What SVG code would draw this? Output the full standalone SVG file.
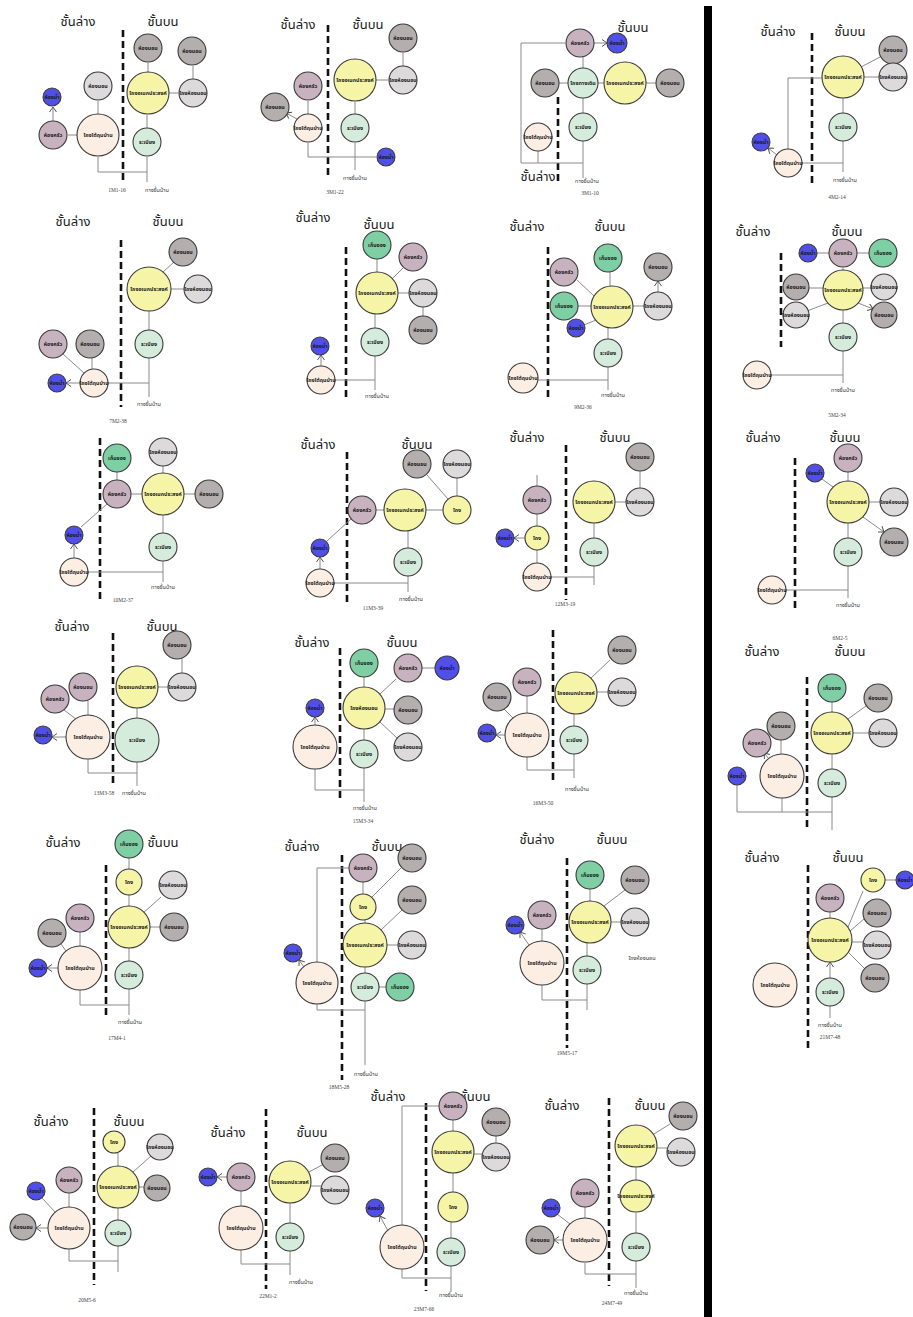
<svg xmlns="http://www.w3.org/2000/svg" width="913" height="1317" viewBox="0 0 913 1317">
<style>
.n circle{stroke:#3a3a3a;stroke-width:1.1}
.n text{font-family:"Noto Sans Thai","Noto Sans","DejaVu Sans",sans-serif;font-size:5.3px;font-weight:bold;text-anchor:middle;fill:#1a1a1a}
.Y{fill:#f6f4a6}.L{fill:#dcdada}.D{fill:#b4aeae}.M{fill:#c8b2c0}.B{fill:#5050e8}.G{fill:#7fcfa5}.R{fill:#d5ecdc}.P{fill:#fdeee4}
.h{font-family:"Noto Sans Thai","Noto Sans","DejaVu Sans",sans-serif;font-size:13px;text-anchor:middle;fill:#1a1a1a}
.c{font-family:"Liberation Serif",serif;font-size:5.5px;text-anchor:middle;fill:#444}
.e{font-family:"Noto Sans Thai","Noto Sans","DejaVu Sans",sans-serif;font-size:5.5px;text-anchor:middle;fill:#333}
.s line{stroke:#111;stroke-width:2.6;stroke-dasharray:7 4}
</style>
<defs>
<marker id="a" markerWidth="8" markerHeight="8" refX="5.5" refY="4" orient="auto" markerUnits="userSpaceOnUse"><path d="M0.5,0.5 L5.5,4 L0.5,7.5" fill="none" stroke="#555" stroke-width="1"/></marker>
</defs>
<rect width="913" height="1317" fill="#fff"/>
<rect x="704" y="6" width="8" height="1311" fill="#000"/>

<g id="separators" class="s">
<line x1="123" y1="30" x2="123" y2="183"/>
<line x1="328" y1="25" x2="328" y2="178"/>
<line x1="558" y1="97" x2="558" y2="183"/>
<line x1="812" y1="33" x2="812" y2="185"/>
<line x1="781" y1="253" x2="781" y2="347"/>
<line x1="795" y1="458" x2="795" y2="610"/>
<line x1="121" y1="240" x2="121" y2="407"/>
<line x1="346" y1="247" x2="346" y2="400"/>
<line x1="548" y1="247" x2="548" y2="400"/>
<line x1="100" y1="438" x2="100" y2="602"/>
<line x1="347" y1="452" x2="347" y2="605"/>
<line x1="566" y1="445" x2="566" y2="600"/>
<line x1="113" y1="633" x2="113" y2="785"/>
<line x1="807" y1="677" x2="807" y2="830"/>
<line x1="340" y1="648" x2="340" y2="802"/>
<line x1="553" y1="630" x2="553" y2="783"/>
<line x1="106" y1="865" x2="106" y2="1017"/>
<line x1="342" y1="855" x2="342" y2="1080"/>
<line x1="567" y1="858" x2="567" y2="1048"/>
<line x1="808" y1="865" x2="808" y2="1048"/>
<line x1="94" y1="1108" x2="94" y2="1285"/>
<line x1="266" y1="1109" x2="266" y2="1289"/>
<line x1="426" y1="1103" x2="426" y2="1291"/>
<line x1="609" y1="1098" x2="609" y2="1286"/>
</g>

<g id="titles">
<text class="h" x="78" y="26">ชั้นล่าง</text><text class="h" x="163" y="26">ชั้นบน</text>
<text class="h" x="298" y="29">ชั้นล่าง</text><text class="h" x="368" y="29">ชั้นบน</text>
<text class="h" x="633" y="32">ชั้นบน</text><text class="h" x="538" y="181">ชั้นล่าง</text>
<text class="h" x="778" y="36">ชั้นล่าง</text><text class="h" x="850" y="36">ชั้นบน</text>
<text class="h" x="753" y="236">ชั้นล่าง</text><text class="h" x="847" y="236">ชั้นบน</text>
<text class="h" x="763" y="442">ชั้นล่าง</text><text class="h" x="845" y="442">ชั้นบน</text>
<text class="h" x="73" y="226">ชั้นล่าง</text><text class="h" x="168" y="226">ชั้นบน</text>
<text class="h" x="313" y="222">ชั้นล่าง</text><text class="h" x="379" y="229">ชั้นบน</text>
<text class="h" x="527" y="231">ชั้นล่าง</text><text class="h" x="610" y="231">ชั้นบน</text>
<text class="h" x="318" y="449">ชั้นล่าง</text><text class="h" x="417" y="449">ชั้นบน</text>
<text class="h" x="527" y="442">ชั้นล่าง</text><text class="h" x="615" y="442">ชั้นบน</text>
<text class="h" x="72" y="631">ชั้นล่าง</text><text class="h" x="162" y="631">ชั้นบน</text>
<text class="h" x="762" y="656">ชั้นล่าง</text><text class="h" x="850" y="656">ชั้นบน</text>
<text class="h" x="312" y="647">ชั้นล่าง</text><text class="h" x="402" y="647">ชั้นบน</text>
<text class="h" x="63" y="847">ชั้นล่าง</text><text class="h" x="163" y="847">ชั้นบน</text>
<text class="h" x="302" y="851">ชั้นล่าง</text><text class="h" x="387" y="851">ชั้นบน</text>
<text class="h" x="537" y="844">ชั้นล่าง</text><text class="h" x="612" y="844">ชั้นบน</text>
<text class="h" x="762" y="862">ชั้นล่าง</text><text class="h" x="848" y="862">ชั้นบน</text>
<text class="h" x="51" y="1126">ชั้นล่าง</text><text class="h" x="129" y="1126">ชั้นบน</text>
<text class="h" x="228" y="1137">ชั้นล่าง</text><text class="h" x="312" y="1137">ชั้นบน</text>
<text class="h" x="388" y="1101">ชั้นล่าง</text><text class="h" x="475" y="1101">ชั้นบน</text>
<text class="h" x="562" y="1110">ชั้นล่าง</text><text class="h" x="650" y="1110">ชั้นบน</text>
</g>

<g id="labels">
<text class="c" x="117" y="192">1M1-16</text><text class="e" x="157" y="192">ทางขึ้นบ้าน</text>
<text class="e" x="355" y="180">ทางขึ้นบ้าน</text><text class="c" x="335" y="194">3M1-22</text>
<text class="e" x="587" y="183">ทางขึ้นบ้าน</text><text class="c" x="590" y="195">3M1-10</text>
<text class="e" x="845" y="182">ทางขึ้นบ้าน</text><text class="c" x="837" y="199">4M2-14</text>
<text class="e" x="843" y="392">ทางขึ้นบ้าน</text><text class="c" x="837" y="417">5M2-34</text>
<text class="e" x="848" y="607">ทางขึ้นบ้าน</text><text class="c" x="840" y="640">6M2-5</text>
<text class="e" x="149" y="406">ทางขึ้นบ้าน</text><text class="c" x="118" y="423">7M2-38</text>
<text class="e" x="377" y="398">ทางขึ้นบ้าน</text>
<text class="e" x="613" y="397">ทางขึ้นบ้าน</text><text class="c" x="583" y="409">9M2-36</text>
<text class="e" x="163" y="589">ทางขึ้นบ้าน</text><text class="c" x="123" y="602">10M2-37</text>
<text class="e" x="411" y="601">ทางขึ้นบ้าน</text><text class="c" x="373" y="610">11M3-39</text>
<text class="c" x="565" y="606">12M3-19</text>
<text class="c" x="104" y="795">13M3-58</text><text class="e" x="134" y="795">ทางขึ้นบ้าน</text>
<text class="e" x="365" y="810">ทางขึ้นบ้าน</text><text class="c" x="363" y="823">15M3-34</text>
<text class="e" x="577" y="791">ทางขึ้นบ้าน</text><text class="c" x="543" y="805">16M3-50</text>
<text class="e" x="130" y="1024">ทางขึ้นบ้าน</text><text class="c" x="117" y="1040">17M4-1</text>
<text class="e" x="366" y="1076">ทางขึ้นบ้าน</text><text class="c" x="339" y="1089">18M5-28</text>
<text class="e" x="642" y="960">โถงห้องนอน</text><text class="c" x="567" y="1055">19M5-17</text>
<text class="e" x="830" y="1027">ทางขึ้นบ้าน</text><text class="c" x="830" y="1039">21M7-48</text>
<text class="c" x="87" y="1302">20M5-6</text>
<text class="e" x="301" y="1284">ทางขึ้นบ้าน</text><text class="c" x="268" y="1298">22M1-2</text>
<text class="e" x="451" y="1297">ทางขึ้นบ้าน</text><text class="c" x="424" y="1311">23M7-66</text>
<text class="e" x="636" y="1295">ทางขึ้นบ้าน</text><text class="c" x="612" y="1305">24M7-49</text>
</g>

<g id="connectors" fill="none" stroke="#8a8a8a" stroke-width="1" marker-end="url(#a)">
<path d="M147,182V157M147,172H98V157M147,128V115M148,72V63M169,93H178M193,79V66M98,114V101M77,135H68M53,121V107"/>
<path d="M355,170V143M355,157H308V143M355,157H376M355,114V102M376,80H388M403,66V53M308,114V101M297,119L286,113"/>
<path d="M583,178V141M583,163H521V43H565M538,163V151M583,113V98M583,68V57M568,83H559M598,83H604M646,83H656M594,43H607"/>
<path d="M843,172V141M843,163H802M788,149V78H822M843,113V98M861,67L880,57M864,77H879M777,155L768,148"/>
<path d="M843,383V351M843,375H771M843,323V310M843,272V268M829,253H817M857,253H869M823,288H809M863,288H871M828,303L807,311M858,303L873,309"/>
<path d="M848,598V566M848,590H786M848,538V523M848,481V472M833,487L822,479M869,502H880M863,517L884,532"/>
<path d="M149,397V358M149,383H108M149,330V311M163,272L174,262M171,289H184M92,369V358M84,373L63,354M80,383H66"/>
<path d="M375,390V356M375,380H335M375,328V314M377,272V259M392,279L403,268M398,293H409M423,307V316M321,366V355"/>
<path d="M608,390V367M608,380H538M608,339V328M610,286V272M594,296L577,280M591,306H578M596,320L584,325M633,306H644M658,292V281"/>
<path d="M163,582V561M163,572H88M163,533V515M163,473V466M142,494H131M184,494H195M117,480V472M107,504L81,527M74,558V544"/>
<path d="M408,592V576M408,583H334M408,548V531M384,510H376M426,510H443M448,499L427,475M457,496V478M351,519L327,541M320,569V557"/>
<path d="M594,585V566M594,577H551M594,538V523M615,502H626M640,488V471M537,563V550M537,526V514M537,486V475M525,538H514"/>
<path d="M137,786V762M137,773H88V759M137,718V708M158,687H168M182,673V659M88,715V701M76,719L64,710M66,737H52"/>
<path d="M832,830V797M832,812H737V785M782,812V798M832,769V754M832,712V702M848,719L866,706M853,733H869M781,754V740M769,759L764,753"/>
<path d="M364,802V768M364,790H315V769M364,740V729M364,687V677M380,694L396,679M422,668H435M385,709H394M380,722L397,738M315,725V717"/>
<path d="M574,778V754M574,770H527V757M574,726V714M591,678L610,660M597,692H608M527,713V696M513,718L504,709M505,735H496"/>
<path d="M129,1015V989M129,1005H80V990M129,961V948M129,906V895M129,869V858M142,914L161,897M150,927H160M80,946V932M66,951L61,944M58,968H47"/>
<path d="M365,1065V1001M365,1010H317V1004M317,962V868H349M365,973V967M365,923V920M363,894V882M372,897L401,868M381,930L402,910M387,945H398M379,987H386M304,967L299,960"/>
<path d="M587,1010V984M587,1000H542V985M587,956V943M590,901V889M604,906L625,890M611,922H621M542,941V929M529,945L520,932"/>
<path d="M830,1018V1006M830,918V912M848,927L863,891M885,880H896M850,931L864,919M852,942H863M848,952L864,968M830,978V962"/>
<path d="M118,1272V1246M118,1261H69V1249M118,1220V1208M118,1166V1153M133,1172L151,1156M139,1187H144M69,1207V1193M55,1212L42,1198M48,1228H36"/>
<path d="M290,1275V1251M290,1264H241V1250M290,1223V1203M309,1172L322,1165M311,1186H321M241,1206V1191M227,1177H217"/>
<path d="M451,1292V1266M451,1278H402V1269M402,1225V1106H439M451,1238V1222M453,1192V1173M453,1131V1120M474,1154H482M496,1143V1136M388,1231L380,1216"/>
<path d="M636,1288V1261M636,1274H585V1263M636,1233V1213M636,1180V1167M654,1134L670,1124M657,1148H667M585,1218V1207M570,1224L557,1214M563,1240H554"/>
</g>

<g class="n">
<g id="d1a" transform="translate(148 48)"><circle r="14" class="D"/><text y="2">ห้องนอน</text></g>
<g id="d1b" transform="translate(192 51)"><circle r="14" class="D"/><text y="2">ห้องนอน</text></g>
<g id="d1c" transform="translate(98 86)"><circle r="14" class="L"/><text y="2">ห้องนอน</text></g>
<g id="d1d" transform="translate(148 93)"><circle r="21" class="Y"/><text y="2">โถงอเนกประสงค์</text></g>
<g id="d1e" transform="translate(193 93)"><circle r="14" class="L"/><text y="2">โถงห้องนอน</text></g>
<g id="d1f" transform="translate(52 97)"><circle r="9" class="B"/><text y="2">ห้องน้ำ</text></g>
<g id="d1g" transform="translate(53 135)"><circle r="14" class="M"/><text y="2">ห้องครัว</text></g>
<g id="d1h" transform="translate(98 135)"><circle r="21" class="P"/><text y="2">โถงใต้ถุนบ้าน</text></g>
<g id="d1i" transform="translate(147 142)"><circle r="14" class="R"/><text y="2">ระเบียง</text></g>

<g id="d2a" transform="translate(403 38)"><circle r="14" class="D"/><text y="2">ห้องนอน</text></g>
<g id="d2b" transform="translate(355 80)"><circle r="21" class="Y"/><text y="2">โถงอเนกประสงค์</text></g>
<g id="d2c" transform="translate(403 80)"><circle r="14" class="L"/><text y="2">โถงห้องนอน</text></g>
<g id="d2d" transform="translate(308 86)"><circle r="14" class="M"/><text y="2">ห้องครัว</text></g>
<g id="d2e" transform="translate(275 107)"><circle r="14" class="D"/><text y="2">ห้องนอน</text></g>
<g id="d2f" transform="translate(308 128)"><circle r="14" class="P"/><text y="2">โถงใต้ถุนบ้าน</text></g>
<g id="d2g" transform="translate(355 128)"><circle r="14" class="R"/><text y="2">ระเบียง</text></g>
<g id="d2h" transform="translate(386 157)"><circle r="9" class="B"/><text y="2">ห้องน้ำ</text></g>

<g id="d3a" transform="translate(580 43)"><circle r="14" class="M"/><text y="2">ห้องครัว</text></g>
<g id="d3b" transform="translate(617 43)"><circle r="10" class="B"/><text y="2">ห้องน้ำ</text></g>
<g id="d3c" transform="translate(545 83)"><circle r="14" class="D"/><text y="2">ห้องนอน</text></g>
<g id="d3d" transform="translate(583 83)"><circle r="15" class="R"/><text y="2">โถงทางเดิน</text></g>
<g id="d3e" transform="translate(625 83)"><circle r="21" class="Y"/><text y="2">โถงอเนกประสงค์</text></g>
<g id="d3f" transform="translate(670 83)"><circle r="14" class="D"/><text y="2">ห้องนอน</text></g>
<g id="d3g" transform="translate(538 137)"><circle r="14" class="P"/><text y="2">โถงใต้ถุนบ้าน</text></g>
<g id="d3h" transform="translate(583 127)"><circle r="14" class="R"/><text y="2">ระเบียง</text></g>

<g id="d4a" transform="translate(893 50)"><circle r="14" class="D"/><text y="2">ห้องนอน</text></g>
<g id="d4b" transform="translate(843 77)"><circle r="21" class="Y"/><text y="2">โถงอเนกประสงค์</text></g>
<g id="d4c" transform="translate(893 77)"><circle r="14" class="L"/><text y="2">โถงห้องนอน</text></g>
<g id="d4d" transform="translate(843 127)"><circle r="14" class="R"/><text y="2">ระเบียง</text></g>
<g id="d4e" transform="translate(761 142)"><circle r="9" class="B"/><text y="2">ห้องน้ำ</text></g>
<g id="d4f" transform="translate(788 163)"><circle r="14" class="P"/><text y="2">โถงใต้ถุนบ้าน</text></g>

<g id="d5a" transform="translate(808 253)"><circle r="9" class="B"/><text y="2">ห้องน้ำ</text></g>
<g id="d5b" transform="translate(843 253)"><circle r="14" class="M"/><text y="2">ห้องครัว</text></g>
<g id="d5c" transform="translate(883 253)"><circle r="14" class="G"/><text y="2">เก็บของ</text></g>
<g id="d5d" transform="translate(796 287)"><circle r="13" class="D"/><text y="2">ห้องนอน</text></g>
<g id="d5e" transform="translate(843 290)"><circle r="20" class="Y"/><text y="2">โถงอเนกประสงค์</text></g>
<g id="d5f" transform="translate(884 287)"><circle r="13" class="L"/><text y="2">โถงห้องนอน</text></g>
<g id="d5g" transform="translate(796 315)"><circle r="13" class="L"/><text y="2">โถงห้องนอน</text></g>
<g id="d5h" transform="translate(884 315)"><circle r="13" class="D"/><text y="2">ห้องนอน</text></g>
<g id="d5i" transform="translate(843 337)"><circle r="14" class="R"/><text y="2">ระเบียง</text></g>
<g id="d5j" transform="translate(757 375)"><circle r="14" class="P"/><text y="2">โถงใต้ถุนบ้าน</text></g>

<g id="d6a" transform="translate(848 458)"><circle r="14" class="M"/><text y="2">ห้องครัว</text></g>
<g id="d6b" transform="translate(815 473)"><circle r="9" class="B"/><text y="2">ห้องน้ำ</text></g>
<g id="d6c" transform="translate(848 502)"><circle r="21" class="Y"/><text y="2">โถงอเนกประสงค์</text></g>
<g id="d6d" transform="translate(894 502)"><circle r="14" class="L"/><text y="2">โถงห้องนอน</text></g>
<g id="d6e" transform="translate(894 542)"><circle r="14" class="D"/><text y="2">ห้องนอน</text></g>
<g id="d6f" transform="translate(848 552)"><circle r="14" class="R"/><text y="2">ระเบียง</text></g>
<g id="d6g" transform="translate(772 590)"><circle r="14" class="P"/><text y="2">โถงใต้ถุนบ้าน</text></g>

<g id="d7a" transform="translate(183 252)"><circle r="14" class="D"/><text y="2">ห้องนอน</text></g>
<g id="d7b" transform="translate(149 289)"><circle r="22" class="Y"/><text y="2">โถงอเนกประสงค์</text></g>
<g id="d7c" transform="translate(198 289)"><circle r="14" class="L"/><text y="2">โถงห้องนอน</text></g>
<g id="d7d" transform="translate(53 344)"><circle r="14" class="M"/><text y="2">ห้องครัว</text></g>
<g id="d7e" transform="translate(90 344)"><circle r="14" class="D"/><text y="2">ห้องนอน</text></g>
<g id="d7f" transform="translate(149 344)"><circle r="14" class="R"/><text y="2">ระเบียง</text></g>
<g id="d7g" transform="translate(57 383)"><circle r="9" class="B"/><text y="2">ห้องน้ำ</text></g>
<g id="d7h" transform="translate(94 383)"><circle r="14" class="P"/><text y="2">โถงใต้ถุนบ้าน</text></g>

<g id="d8a" transform="translate(377 245)"><circle r="14" class="G"/><text y="2">เก็บของ</text></g>
<g id="d8b" transform="translate(413 257)"><circle r="14" class="M"/><text y="2">ห้องครัว</text></g>
<g id="d8c" transform="translate(377 293)"><circle r="21" class="Y"/><text y="2">โถงอเนกประสงค์</text></g>
<g id="d8d" transform="translate(423 293)"><circle r="14" class="L"/><text y="2">โถงห้องนอน</text></g>
<g id="d8e" transform="translate(423 330)"><circle r="14" class="D"/><text y="2">ห้องนอน</text></g>
<g id="d8f" transform="translate(375 342)"><circle r="14" class="R"/><text y="2">ระเบียง</text></g>
<g id="d8g" transform="translate(320 346)"><circle r="9" class="B"/><text y="2">ห้องน้ำ</text></g>
<g id="d8h" transform="translate(321 380)"><circle r="14" class="P"/><text y="2">โถงใต้ถุนบ้าน</text></g>

<g id="d9a" transform="translate(608 258)"><circle r="14" class="G"/><text y="2">เก็บของ</text></g>
<g id="d9b" transform="translate(658 267)"><circle r="14" class="D"/><text y="2">ห้องนอน</text></g>
<g id="d9c" transform="translate(564 272)"><circle r="14" class="M"/><text y="2">ห้องครัว</text></g>
<g id="d9d" transform="translate(564 306)"><circle r="14" class="G"/><text y="2">เก็บของ</text></g>
<g id="d9e" transform="translate(612 307)"><circle r="21" class="Y"/><text y="2">โถงอเนกประสงค์</text></g>
<g id="d9f" transform="translate(658 306)"><circle r="14" class="L"/><text y="2">โถงห้องนอน</text></g>
<g id="d9g" transform="translate(576 328)"><circle r="9" class="B"/><text y="2">ห้องน้ำ</text></g>
<g id="d9h" transform="translate(608 353)"><circle r="14" class="R"/><text y="2">ระเบียง</text></g>
<g id="d9i" transform="translate(523 378)"><circle r="15" class="P"/><text y="2">โถงใต้ถุนบ้าน</text></g>

<g id="d10a" transform="translate(117 458)"><circle r="14" class="G"/><text y="2">เก็บของ</text></g>
<g id="d10b" transform="translate(163 452)"><circle r="14" class="L"/><text y="2">โถงห้องนอน</text></g>
<g id="d10c" transform="translate(117 494)"><circle r="14" class="M"/><text y="2">ห้องครัว</text></g>
<g id="d10d" transform="translate(163 494)"><circle r="21" class="Y"/><text y="2">โถงอเนกประสงค์</text></g>
<g id="d10e" transform="translate(209 494)"><circle r="14" class="D"/><text y="2">ห้องนอน</text></g>
<g id="d10f" transform="translate(74 535)"><circle r="9" class="B"/><text y="2">ห้องน้ำ</text></g>
<g id="d10g" transform="translate(163 547)"><circle r="14" class="R"/><text y="2">ระเบียง</text></g>
<g id="d10h" transform="translate(74 572)"><circle r="14" class="P"/><text y="2">โถงใต้ถุนบ้าน</text></g>

<g id="d11a" transform="translate(417 464)"><circle r="14" class="D"/><text y="2">ห้องนอน</text></g>
<g id="d11b" transform="translate(457 464)"><circle r="14" class="L"/><text y="2">โถงห้องนอน</text></g>
<g id="d11c" transform="translate(362 510)"><circle r="14" class="M"/><text y="2">ห้องครัว</text></g>
<g id="d11d" transform="translate(405 510)"><circle r="21" class="Y"/><text y="2">โถงอเนกประสงค์</text></g>
<g id="d11e" transform="translate(457 510)"><circle r="14" class="Y"/><text y="2">โถง</text></g>
<g id="d11f" transform="translate(320 548)"><circle r="9" class="B"/><text y="2">ห้องน้ำ</text></g>
<g id="d11g" transform="translate(408 562)"><circle r="14" class="R"/><text y="2">ระเบียง</text></g>
<g id="d11h" transform="translate(320 583)"><circle r="14" class="P"/><text y="2">โถงใต้ถุนบ้าน</text></g>

<g id="d12a" transform="translate(640 457)"><circle r="14" class="D"/><text y="2">ห้องนอน</text></g>
<g id="d12b" transform="translate(594 502)"><circle r="21" class="Y"/><text y="2">โถงอเนกประสงค์</text></g>
<g id="d12c" transform="translate(640 502)"><circle r="14" class="L"/><text y="2">โถงห้องนอน</text></g>
<g id="d12d" transform="translate(537 500)"><circle r="14" class="M"/><text y="2">ห้องครัว</text></g>
<g id="d12e" transform="translate(537 538)"><circle r="12" class="Y"/><text y="2">โถง</text></g>
<g id="d12f" transform="translate(505 538)"><circle r="9" class="B"/><text y="2">ห้องน้ำ</text></g>
<g id="d12g" transform="translate(594 552)"><circle r="14" class="R"/><text y="2">ระเบียง</text></g>
<g id="d12h" transform="translate(537 577)"><circle r="14" class="P"/><text y="2">โถงใต้ถุนบ้าน</text></g>

<g id="d13a" transform="translate(177 645)"><circle r="14" class="D"/><text y="2">ห้องนอน</text></g>
<g id="d13b" transform="translate(137 687)"><circle r="21" class="Y"/><text y="2">โถงอเนกประสงค์</text></g>
<g id="d13c" transform="translate(182 687)"><circle r="14" class="L"/><text y="2">โถงห้องนอน</text></g>
<g id="d13d" transform="translate(83 687)"><circle r="14" class="M"/><text y="2">ห้องนอน</text></g>
<g id="d13e" transform="translate(55 699)"><circle r="14" class="M"/><text y="2">ห้องครัว</text></g>
<g id="d13f" transform="translate(43 735)"><circle r="9" class="B"/><text y="2">ห้องน้ำ</text></g>
<g id="d13g" transform="translate(88 737)"><circle r="22" class="P"/><text y="2">โถงใต้ถุนบ้าน</text></g>
<g id="d13h" transform="translate(137 740)"><circle r="22" class="R"/><text y="2">ระเบียง</text></g>

<g id="d14a" transform="translate(832 688)"><circle r="14" class="G"/><text y="2">เก็บของ</text></g>
<g id="d14b" transform="translate(878 698)"><circle r="14" class="D"/><text y="2">ห้องนอน</text></g>
<g id="d14c" transform="translate(781 726)"><circle r="14" class="D"/><text y="2">ห้องนอน</text></g>
<g id="d14d" transform="translate(832 733)"><circle r="21" class="Y"/><text y="2">โถงอเนกประสงค์</text></g>
<g id="d14e" transform="translate(883 733)"><circle r="14" class="L"/><text y="2">โถงห้องนอน</text></g>
<g id="d14f" transform="translate(757 743)"><circle r="14" class="M"/><text y="2">ห้องครัว</text></g>
<g id="d14g" transform="translate(737 776)"><circle r="9" class="B"/><text y="2">ห้องน้ำ</text></g>
<g id="d14h" transform="translate(782 776)"><circle r="22" class="P"/><text y="2">โถงใต้ถุนบ้าน</text></g>
<g id="d14i" transform="translate(832 783)"><circle r="14" class="R"/><text y="2">ระเบียง</text></g>

<g id="d15a" transform="translate(364 663)"><circle r="14" class="G"/><text y="2">เก็บของ</text></g>
<g id="d15b" transform="translate(408 668)"><circle r="14" class="M"/><text y="2">ห้องครัว</text></g>
<g id="d15c" transform="translate(447 668)"><circle r="12" class="B"/><text y="2">ห้องน้ำ</text></g>
<g id="d15d" transform="translate(315 708)"><circle r="9" class="B"/><text y="2">ห้องน้ำ</text></g>
<g id="d15e" transform="translate(364 708)"><circle r="21" class="Y"/><text y="2">โถงห้องนอน</text></g>
<g id="d15f" transform="translate(408 710)"><circle r="14" class="D"/><text y="2">ห้องนอน</text></g>
<g id="d15g" transform="translate(408 747)"><circle r="14" class="L"/><text y="2">โถงห้องนอน</text></g>
<g id="d15h" transform="translate(315 747)"><circle r="22" class="P"/><text y="2">โถงใต้ถุนบ้าน</text></g>
<g id="d15i" transform="translate(364 754)"><circle r="14" class="R"/><text y="2">ระเบียง</text></g>

<g id="d16a" transform="translate(527 682)"><circle r="14" class="M"/><text y="2">ห้องครัว</text></g>
<g id="d16b" transform="translate(497 697)"><circle r="14" class="D"/><text y="2">ห้องนอน</text></g>
<g id="d16c" transform="translate(487 733)"><circle r="9" class="B"/><text y="2">ห้องน้ำ</text></g>
<g id="d16d" transform="translate(527 735)"><circle r="22" class="P"/><text y="2">โถงใต้ถุนบ้าน</text></g>
<g id="d16e" transform="translate(622 650)"><circle r="14" class="D"/><text y="2">ห้องนอน</text></g>
<g id="d16f" transform="translate(576 693)"><circle r="21" class="Y"/><text y="2">โถงอเนกประสงค์</text></g>
<g id="d16g" transform="translate(622 692)"><circle r="14" class="L"/><text y="2">โถงห้องนอน</text></g>
<g id="d16h" transform="translate(574 740)"><circle r="14" class="R"/><text y="2">ระเบียง</text></g>

<g id="d17a" transform="translate(129 844)"><circle r="14" class="G"/><text y="2">เก็บของ</text></g>
<g id="d17b" transform="translate(129 882)"><circle r="13" class="Y"/><text y="2">โถง</text></g>
<g id="d17c" transform="translate(173 885)"><circle r="14" class="L"/><text y="2">โถงห้องนอน</text></g>
<g id="d17d" transform="translate(129 927)"><circle r="21" class="Y"/><text y="2">โถงอเนกประสงค์</text></g>
<g id="d17e" transform="translate(174 927)"><circle r="14" class="D"/><text y="2">ห้องนอน</text></g>
<g id="d17f" transform="translate(80 918)"><circle r="14" class="M"/><text y="2">ห้องครัว</text></g>
<g id="d17g" transform="translate(52 933)"><circle r="14" class="D"/><text y="2">ห้องนอน</text></g>
<g id="d17h" transform="translate(38 968)"><circle r="9" class="B"/><text y="2">ห้องน้ำ</text></g>
<g id="d17i" transform="translate(80 968)"><circle r="22" class="P"/><text y="2">โถงใต้ถุนบ้าน</text></g>
<g id="d17j" transform="translate(129 975)"><circle r="14" class="R"/><text y="2">ระเบียง</text></g>

<g id="d18a" transform="translate(363 868)"><circle r="14" class="M"/><text y="2">ห้องครัว</text></g>
<g id="d18b" transform="translate(412 858)"><circle r="14" class="D"/><text y="2">ห้องนอน</text></g>
<g id="d18c" transform="translate(363 907)"><circle r="13" class="Y"/><text y="2">โถง</text></g>
<g id="d18d" transform="translate(412 900)"><circle r="14" class="D"/><text y="2">ห้องนอน</text></g>
<g id="d18e" transform="translate(365 945)"><circle r="22" class="Y"/><text y="2">โถงอเนกประสงค์</text></g>
<g id="d18f" transform="translate(412 945)"><circle r="14" class="L"/><text y="2">โถงห้องนอน</text></g>
<g id="d18g" transform="translate(293 953)"><circle r="9" class="B"/><text y="2">ห้องน้ำ</text></g>
<g id="d18h" transform="translate(317 983)"><circle r="21" class="P"/><text y="2">โถงใต้ถุนบ้าน</text></g>
<g id="d18i" transform="translate(365 987)"><circle r="14" class="R"/><text y="2">ระเบียง</text></g>
<g id="d18j" transform="translate(400 987)"><circle r="14" class="G"/><text y="2">เก็บของ</text></g>

<g id="d19a" transform="translate(590 875)"><circle r="14" class="G"/><text y="2">เก็บของ</text></g>
<g id="d19b" transform="translate(635 880)"><circle r="14" class="D"/><text y="2">ห้องนอน</text></g>
<g id="d19c" transform="translate(542 915)"><circle r="14" class="M"/><text y="2">ห้องครัว</text></g>
<g id="d19d" transform="translate(590 922)"><circle r="21" class="Y"/><text y="2">โถงอเนกประสงค์</text></g>
<g id="d19e" transform="translate(635 922)"><circle r="14" class="L"/><text y="2">โถงห้องนอน</text></g>
<g id="d19f" transform="translate(515 925)"><circle r="9" class="B"/><text y="2">ห้องน้ำ</text></g>
<g id="d19g" transform="translate(542 963)"><circle r="22" class="P"/><text y="2">โถงใต้ถุนบ้าน</text></g>
<g id="d19h" transform="translate(587 970)"><circle r="14" class="R"/><text y="2">ระเบียง</text></g>

<g id="d21a" transform="translate(873 880)"><circle r="12" class="Y"/><text y="2">โถง</text></g>
<g id="d21b" transform="translate(905 880)"><circle r="9" class="B"/><text y="2">ห้องน้ำ</text></g>
<g id="d21c" transform="translate(830 898)"><circle r="14" class="M"/><text y="2">ห้องครัว</text></g>
<g id="d21d" transform="translate(877 913)"><circle r="14" class="D"/><text y="2">ห้องนอน</text></g>
<g id="d21e" transform="translate(830 940)"><circle r="22" class="Y"/><text y="2">โถงอเนกประสงค์</text></g>
<g id="d21f" transform="translate(877 945)"><circle r="14" class="L"/><text y="2">โถงห้องนอน</text></g>
<g id="d21g" transform="translate(875 978)"><circle r="14" class="D"/><text y="2">ห้องนอน</text></g>
<g id="d21h" transform="translate(775 985)"><circle r="22" class="P"/><text y="2">โถงใต้ถุนบ้าน</text></g>
<g id="d21i" transform="translate(830 992)"><circle r="14" class="R"/><text y="2">ระเบียง</text></g>

<g id="d20a" transform="translate(114 1142)"><circle r="11" class="Y"/><text y="2">โถง</text></g>
<g id="d20b" transform="translate(160 1147)"><circle r="13" class="L"/><text y="2">โถงห้องนอน</text></g>
<g id="d20c" transform="translate(69 1180)"><circle r="13" class="M"/><text y="2">ห้องครัว</text></g>
<g id="d20d" transform="translate(36 1191)"><circle r="9" class="B"/><text y="2">ห้องน้ำ</text></g>
<g id="d20e" transform="translate(118 1187)"><circle r="21" class="Y"/><text y="2">โถงอเนกประสงค์</text></g>
<g id="d20f" transform="translate(157 1188)"><circle r="13" class="D"/><text y="2">ห้องนอน</text></g>
<g id="d20g" transform="translate(23 1227)"><circle r="13" class="D"/><text y="2">ห้องนอน</text></g>
<g id="d20h" transform="translate(69 1228)"><circle r="21" class="P"/><text y="2">โถงใต้ถุนบ้าน</text></g>
<g id="d20i" transform="translate(118 1233)"><circle r="13" class="R"/><text y="2">ระเบียง</text></g>

<g id="d22a" transform="translate(335 1158)"><circle r="14" class="D"/><text y="2">ห้องนอน</text></g>
<g id="d22b" transform="translate(208 1177)"><circle r="9" class="B"/><text y="2">ห้องน้ำ</text></g>
<g id="d22c" transform="translate(241 1177)"><circle r="14" class="M"/><text y="2">ห้องครัว</text></g>
<g id="d22d" transform="translate(290 1182)"><circle r="21" class="Y"/><text y="2">โถงอเนกประสงค์</text></g>
<g id="d22e" transform="translate(335 1190)"><circle r="14" class="L"/><text y="2">โถงห้องนอน</text></g>
<g id="d22f" transform="translate(241 1228)"><circle r="22" class="P"/><text y="2">โถงใต้ถุนบ้าน</text></g>
<g id="d22g" transform="translate(290 1237)"><circle r="14" class="R"/><text y="2">ระเบียง</text></g>

<g id="d23a" transform="translate(453 1106)"><circle r="14" class="M"/><text y="2">ห้องครัว</text></g>
<g id="d23b" transform="translate(496 1122)"><circle r="14" class="D"/><text y="2">ห้องนอน</text></g>
<g id="d23c" transform="translate(453 1152)"><circle r="21" class="Y"/><text y="2">โถงอเนกประสงค์</text></g>
<g id="d23d" transform="translate(496 1157)"><circle r="14" class="L"/><text y="2">โถงห้องนอน</text></g>
<g id="d23e" transform="translate(375 1208)"><circle r="9" class="B"/><text y="2">ห้องน้ำ</text></g>
<g id="d23f" transform="translate(453 1207)"><circle r="15" class="Y"/><text y="2">โถง</text></g>
<g id="d23g" transform="translate(402 1247)"><circle r="22" class="P"/><text y="2">โถงใต้ถุนบ้าน</text></g>
<g id="d23h" transform="translate(451 1252)"><circle r="14" class="R"/><text y="2">ระเบียง</text></g>

<g id="d24a" transform="translate(683 1116)"><circle r="14" class="D"/><text y="2">ห้องนอน</text></g>
<g id="d24b" transform="translate(636 1146)"><circle r="21" class="Y"/><text y="2">โถงอเนกประสงค์</text></g>
<g id="d24c" transform="translate(681 1152)"><circle r="14" class="L"/><text y="2">โถงห้องนอน</text></g>
<g id="d24d" transform="translate(585 1193)"><circle r="14" class="M"/><text y="2">ห้องครัว</text></g>
<g id="d24e" transform="translate(636 1196)"><circle r="16" class="Y"/><text y="2">โถงอเนกประสงค์</text></g>
<g id="d24f" transform="translate(551 1208)"><circle r="9" class="B"/><text y="2">ห้องน้ำ</text></g>
<g id="d24g" transform="translate(540 1240)"><circle r="14" class="D"/><text y="2">ห้องนอน</text></g>
<g id="d24h" transform="translate(585 1240)"><circle r="22" class="P"/><text y="2">โถงใต้ถุนบ้าน</text></g>
<g id="d24i" transform="translate(636 1247)"><circle r="14" class="R"/><text y="2">ระเบียง</text></g>
</g>
</svg>
